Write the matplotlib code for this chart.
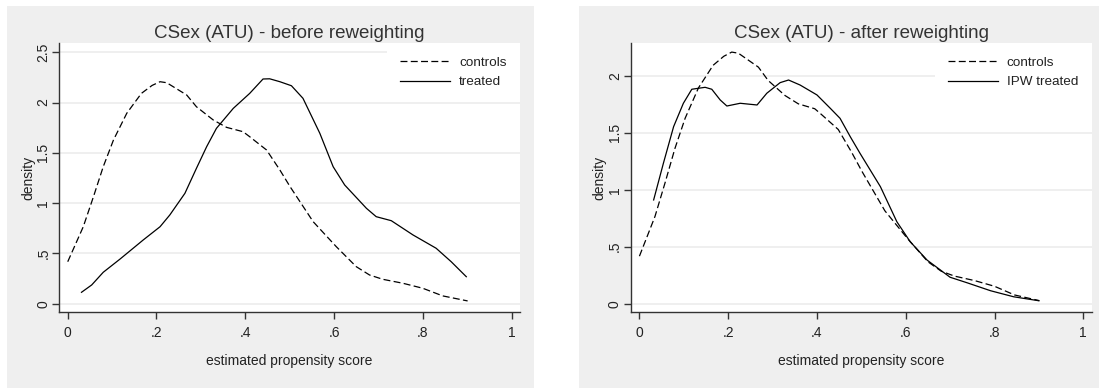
import numpy as np
import matplotlib.pyplot as plt
from matplotlib.patches import Rectangle

# ---------------------------------------------
# data
# ---------------------------------------------
controls_x = [0.000, 0.035, 0.058, 0.080, 0.103, 0.133, 0.166, 0.190, 0.208, 0.223,
              0.268, 0.290, 0.328, 0.358, 0.395, 0.410, 0.448, 0.478, 0.501, 0.553,
              0.605, 0.650, 0.680, 0.710, 0.755, 0.800, 0.845, 0.901]
controls_y = [0.417, 0.765, 1.064, 1.362, 1.627, 1.893, 2.091, 2.170, 2.207, 2.197,
              2.075, 1.958, 1.826, 1.753, 1.710, 1.660, 1.528, 1.329, 1.163, 0.815,
              0.567, 0.368, 0.285, 0.242, 0.203, 0.153, 0.077, 0.027]

treated_x = [0.031, 0.054, 0.080, 0.118, 0.170, 0.208, 0.230, 0.264, 0.290, 0.313,
             0.335, 0.373, 0.410, 0.440, 0.455, 0.478, 0.504, 0.530, 0.568, 0.598,
             0.624, 0.673, 0.695, 0.729, 0.778, 0.830, 0.864, 0.898]
treated_y = [0.113, 0.186, 0.312, 0.444, 0.633, 0.765, 0.882, 1.097, 1.346, 1.561,
             1.743, 1.942, 2.091, 2.234, 2.236, 2.207, 2.167, 2.042, 1.694, 1.362,
             1.180, 0.948, 0.865, 0.825, 0.683, 0.551, 0.417, 0.268]

ipw_x = [0.032, 0.054, 0.077, 0.099, 0.118, 0.148, 0.163, 0.182, 0.197, 0.227,
         0.265, 0.287, 0.317, 0.336, 0.362, 0.400, 0.430, 0.452, 0.475, 0.497,
         0.543, 0.580, 0.610, 0.648, 0.700, 0.738, 0.791, 0.843, 0.900]
ipw_y = [0.910, 1.232, 1.553, 1.758, 1.881, 1.898, 1.881, 1.787, 1.734, 1.758,
         1.743, 1.846, 1.939, 1.962, 1.918, 1.831, 1.714, 1.626, 1.465, 1.319,
         1.026, 0.719, 0.544, 0.383, 0.232, 0.184, 0.114, 0.061, 0.026]

x_ticks = [0, 0.2, 0.4, 0.6, 0.8, 1.0]
x_ticklabels = ["0", ".2", ".4", ".6", ".8", "1"]
y_ticks_left = [0, 0.5, 1, 1.5, 2, 2.5]
y_ticklabels_left = ["0", ".5", "1", "1.5", "2", "2.5"]
y_ticks_right = [0, 0.5, 1, 1.5, 2]
y_ticklabels_right = ["0", ".5", "1", "1.5", "2"]

# ---------------------------------------------
# figure
# ---------------------------------------------
plt.rcParams["font.family"] = ["Liberation Sans", "DejaVu Sans"]
plt.rcParams["lines.scale_dashes"] = False

W, H = 1099, 388
fig = plt.figure(figsize=(W / 100, H / 100), dpi=100)
fig.patch.set_facecolor("white")

# grey graph regions (stata style)
bg = "#efefef"
fig.patches.append(Rectangle((7 / W, 0), 527 / W, 382 / H, transform=fig.transFigure,
                             facecolor=bg, edgecolor="none", zorder=-5))
fig.patches.append(Rectangle((579 / W, 0), 520 / W, 382 / H, transform=fig.transFigure,
                             facecolor=bg, edgecolor="none", zorder=-5))

ax1 = fig.add_axes([59.3 / W, (H - 311.7) / H, 460.7 / W, 268.4 / H])
ax2 = fig.add_axes([631 / W, (H - 311.7) / H, 460.7 / W, 268.4 / H])
ax1.set_zorder(2)
ax2.set_zorder(2)


def style(ax, yt, ytl, ylim, title):
    ax.set_facecolor("white")
    ax.set_xlim(-0.019, 1.019)
    ax.set_ylim(*ylim)
    ax.set_xticks(x_ticks)
    ax.set_xticklabels(x_ticklabels)
    ax.set_yticks(yt)
    ax.set_yticklabels(ytl, rotation=90, va="center")
    ax.grid(axis="y", color="#ececec", linewidth=1.2)
    ax.set_axisbelow(True)
    for s in ["top", "right"]:
        ax.spines[s].set_visible(False)
    for s in ["left", "bottom"]:
        ax.spines[s].set_color("#333333")
        ax.spines[s].set_linewidth(1.0)
    ax.tick_params(length=5, width=1.0, color="#333333", labelsize=10,
                   labelcolor="#222222")
    ax.tick_params(axis="x", pad=5.5)
    ax.tick_params(axis="y", pad=1.5)
    ax.set_xlabel("estimated propensity score", fontsize=10, color="#222222", labelpad=10)
    ax.set_ylabel("density", fontsize=10, color="#222222", labelpad=1)
    ax.set_title(title, fontsize=13.5, color="#333333", pad=3.5)


ax1.plot(controls_x, controls_y, color="black", lw=0.9, dashes=(5, 2.4), label="controls")
ax1.plot(treated_x, treated_y, color="black", lw=0.9, label="treated")
style(ax1, y_ticks_left, y_ticklabels_left, (-0.08, 2.589), "CSex (ATU) - before reweighting")

ax2.plot(controls_x, controls_y, color="black", lw=0.9, dashes=(5, 2.4), label="controls")
ax2.plot(ipw_x, ipw_y, color="black", lw=0.9, label="IPW treated")
style(ax2, y_ticks_right, y_ticklabels_right, (-0.07, 2.284), "CSex (ATU) - after reweighting")

for ax in (ax1, ax2):
    leg = ax.legend(loc="upper right", frameon=True, fancybox=False, framealpha=1,
                    facecolor="white", edgecolor="none", fontsize=9.7,
                    handlelength=3.7, handletextpad=0.65, labelspacing=0.5,
                    borderaxespad=0, borderpad=1.0)
    for t in leg.get_texts():
        t.set_color("#222222")

fig.savefig("out.png", dpi=100, facecolor=fig.get_facecolor())
